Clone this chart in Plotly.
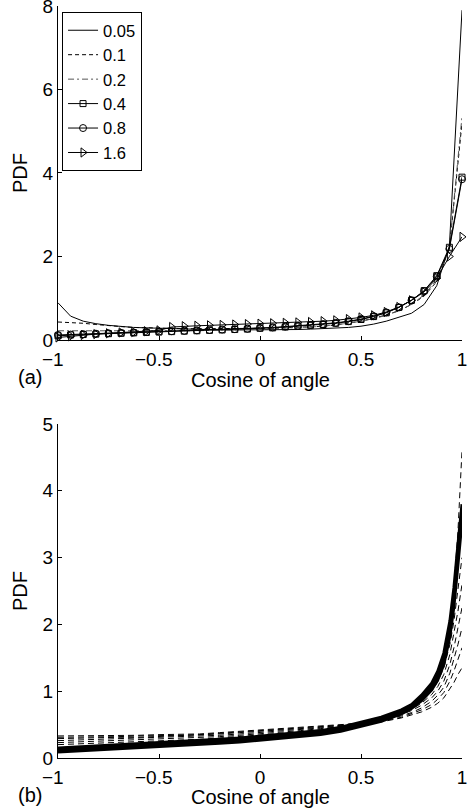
import plotly.graph_objects as go

# ---------------- Panel (a) data ----------------
x_a = [-1.0, -0.9375, -0.875, -0.8125, -0.75, -0.6875, -0.625, -0.5625, -0.5, -0.4375,
       -0.375, -0.3125, -0.25, -0.1875, -0.125, -0.0625, 0.0, 0.0625, 0.125, 0.1875,
       0.25, 0.3125, 0.375, 0.4375, 0.5, 0.5625, 0.625, 0.6875, 0.75, 0.8125,
       0.875, 0.9375, 1.0]

a_005 = [0.89, 0.57, 0.45, 0.39, 0.35, 0.32, 0.30, 0.29, 0.28, 0.27, 0.26, 0.25, 0.25, 0.24, 0.24, 0.24,
         0.24, 0.24, 0.25, 0.25, 0.26, 0.27, 0.28, 0.30, 0.33, 0.38, 0.45, 0.54, 0.64, 0.85, 1.30, 2.25, 7.9]
a_01 = [0.43, 0.42, 0.40, 0.37, 0.34, 0.32, 0.30, 0.29, 0.28, 0.27, 0.27, 0.27, 0.27, 0.27, 0.27, 0.27,
        0.28, 0.28, 0.29, 0.30, 0.31, 0.33, 0.36, 0.40, 0.45, 0.52, 0.60, 0.70, 0.85, 1.05, 1.40, 2.20, 5.2]
a_02 = [0.22, 0.22, 0.22, 0.21, 0.21, 0.21, 0.21, 0.21, 0.21, 0.22, 0.22, 0.22, 0.23, 0.23, 0.24, 0.25,
        0.26, 0.27, 0.28, 0.29, 0.31, 0.33, 0.36, 0.40, 0.45, 0.51, 0.59, 0.70, 0.85, 1.08, 1.45, 2.20, 5.35]
a_04 = [0.10, 0.12, 0.13, 0.14, 0.15, 0.16, 0.17, 0.18, 0.19, 0.20, 0.21, 0.22, 0.23, 0.24, 0.25, 0.26,
        0.28, 0.29, 0.31, 0.33, 0.35, 0.37, 0.40, 0.44, 0.49, 0.56, 0.65, 0.78, 0.95, 1.18, 1.54, 2.22, 3.9]
a_08 = [0.12, 0.13, 0.14, 0.15, 0.16, 0.17, 0.18, 0.19, 0.20, 0.21, 0.22, 0.23, 0.24, 0.25, 0.26, 0.27,
        0.29, 0.30, 0.32, 0.34, 0.36, 0.38, 0.41, 0.45, 0.50, 0.57, 0.66, 0.78, 0.95, 1.17, 1.52, 2.18, 3.85]
a_16 = [0.06, 0.09, 0.12, 0.14, 0.16, 0.18, 0.19, 0.21, 0.23, 0.31, 0.33, 0.34, 0.35, 0.36, 0.37, 0.38,
        0.39, 0.40, 0.41, 0.42, 0.43, 0.45, 0.47, 0.50, 0.54, 0.59, 0.67, 0.79, 0.95, 1.15, 1.48, 2.00, 2.47]

legend_names = ["0.05", "0.1", "0.2", "0.4", "0.8", "1.6"]

# ---------------- Panel (b) data ----------------
x_b = [-1.0, -0.9, -0.8, -0.7, -0.6, -0.5, -0.4, -0.3, -0.2, -0.1, 0.0, 0.1, 0.2, 0.3, 0.4, 0.5,
       0.6, 0.7, 0.75, 0.8, 0.85, 0.88, 0.91, 0.94, 0.96, 0.98, 1.0]

b_dashed = [
    [0.15, 0.16, 0.17, 0.18, 0.19, 0.20, 0.21, 0.22, 0.24, 0.26, 0.28, 0.30, 0.33, 0.36, 0.41, 0.47,
     0.55, 0.66, 0.74, 0.87, 1.05, 1.22, 1.50, 2.00, 2.55, 3.40, 4.60],
    [0.20, 0.21, 0.22, 0.23, 0.24, 0.25, 0.26, 0.28, 0.30, 0.32, 0.34, 0.36, 0.39, 0.42, 0.46, 0.51,
     0.58, 0.68, 0.75, 0.86, 1.00, 1.14, 1.35, 1.70, 2.05, 2.50, 3.00],
    [0.23, 0.24, 0.25, 0.26, 0.27, 0.28, 0.29, 0.30, 0.32, 0.34, 0.36, 0.38, 0.41, 0.44, 0.47, 0.52,
     0.58, 0.67, 0.73, 0.82, 0.95, 1.07, 1.25, 1.55, 1.85, 2.20, 2.60],
    [0.26, 0.27, 0.28, 0.29, 0.30, 0.30, 0.31, 0.32, 0.34, 0.36, 0.38, 0.40, 0.42, 0.45, 0.48, 0.52,
     0.57, 0.65, 0.71, 0.79, 0.90, 1.00, 1.15, 1.40, 1.65, 1.95, 2.25],
    [0.29, 0.30, 0.30, 0.31, 0.31, 0.32, 0.33, 0.34, 0.36, 0.38, 0.40, 0.41, 0.43, 0.46, 0.49, 0.52,
     0.56, 0.63, 0.68, 0.75, 0.85, 0.94, 1.06, 1.27, 1.47, 1.70, 1.95],
    [0.31, 0.31, 0.32, 0.32, 0.33, 0.33, 0.34, 0.35, 0.37, 0.39, 0.41, 0.42, 0.44, 0.46, 0.49, 0.52,
     0.55, 0.61, 0.66, 0.72, 0.80, 0.88, 0.98, 1.15, 1.30, 1.48, 1.65],
    [0.33, 0.33, 0.34, 0.34, 0.34, 0.35, 0.35, 0.36, 0.38, 0.40, 0.42, 0.43, 0.45, 0.47, 0.49, 0.51,
     0.54, 0.60, 0.64, 0.69, 0.76, 0.82, 0.90, 1.03, 1.13, 1.25, 1.35],
]

b_solid = [
    [0.09, 0.105, 0.12, 0.135, 0.15, 0.17, 0.185, 0.20, 0.22, 0.24, 0.27, 0.29, 0.32, 0.35, 0.40, 0.47,
     0.55, 0.66, 0.74, 0.86, 1.02, 1.17, 1.40, 1.82, 2.27, 2.90, 3.55],
    [0.12, 0.135, 0.15, 0.165, 0.18, 0.20, 0.215, 0.23, 0.25, 0.27, 0.30, 0.32, 0.35, 0.38, 0.43, 0.50,
     0.58, 0.69, 0.77, 0.90, 1.07, 1.23, 1.48, 1.93, 2.40, 3.05, 3.72],
    [0.15, 0.165, 0.18, 0.195, 0.21, 0.23, 0.245, 0.26, 0.28, 0.30, 0.33, 0.35, 0.38, 0.41, 0.46, 0.53,
     0.61, 0.72, 0.80, 0.94, 1.12, 1.30, 1.57, 2.05, 2.55, 3.20, 3.80],
]

x_tickvals = [-1, -0.5, 0, 0.5, 1]
x_ticktext = ["\u22121\u00a0\u00a0", "\u22120.5\u00a0\u00a0", "0", "0.5", "1"]

FONT = "Liberation Sans, Arial, Helvetica, sans-serif"
FS = 20
FT = 19

fig = go.Figure()

styles_a = [
    dict(line=dict(color="black", width=1), mode="lines"),
    dict(line=dict(color="black", width=1, dash="4px,3px"), mode="lines"),
    dict(line=dict(color="#555555", width=1, dash="6px,3px,2px,3px"), mode="lines"),
    dict(line=dict(color="black", width=1), mode="lines+markers",
         marker=dict(symbol="square-open", size=6, color="black", line=dict(width=1))),
    dict(line=dict(color="black", width=1), mode="lines+markers",
         marker=dict(symbol="circle-open", size=7, color="black", line=dict(width=1))),
    dict(line=dict(color="black", width=1), mode="lines+markers",
         marker=dict(symbol="triangle-right-open", size=8, color="black", line=dict(width=1))),
]
series_a = [a_005, a_01, a_02, a_04, a_08, a_16]
for name, ys, st in zip(legend_names, series_a, styles_a):
    fig.add_trace(go.Scatter(x=x_a, y=ys, name=name, xaxis="x", yaxis="y", showlegend=True,
                             cliponaxis=False, **st))

for ys in b_dashed:
    fig.add_trace(go.Scatter(x=x_b, y=ys, mode="lines", xaxis="x2", yaxis="y2", showlegend=False,
                             line=dict(color="black", width=1, dash="6px,4px")))
for ys in b_solid:
    fig.add_trace(go.Scatter(x=x_b, y=ys, mode="lines", xaxis="x2", yaxis="y2", showlegend=False,
                             line=dict(color="black", width=3)))

axis_common = dict(
    showgrid=False, zeroline=False, showline=True, linecolor="black", linewidth=1,
    ticks="inside", ticklen=4, tickcolor="black", tickwidth=1, mirror=False,
    tickfont=dict(family=FONT, size=FT, color="black"), automargin=False,
    ticklabeloverflow="allow",
)

top_dom = [0.5559, 1.0]
bot_dom = [0.0, 0.4441]

fig.update_layout(
    width=473, height=811,
    margin=dict(l=58, r=11, t=6, b=53, autoexpand=False),
    paper_bgcolor="white", plot_bgcolor="white",
    font=dict(family=FONT, size=FS, color="black"),
    xaxis=dict(domain=[0, 1], anchor="y", range=[-1, 1], tickmode="array",
               tickvals=x_tickvals, ticktext=x_ticktext, ticklabelstandoff=2, **axis_common),
    yaxis=dict(domain=top_dom, anchor="x", range=[0, 8], tickmode="array",
               tickvals=[0, 2, 4, 6, 8],
               title=dict(text="PDF", standoff=9, font=dict(size=FS)), **axis_common),
    xaxis2=dict(domain=[0, 1], anchor="y2", range=[-1, 1], tickmode="array",
                tickvals=x_tickvals, ticktext=x_ticktext, ticklabelstandoff=2, **axis_common),
    yaxis2=dict(domain=bot_dom, anchor="x2", range=[0, 5], tickmode="array",
                tickvals=[0, 1, 2, 3, 4, 5],
                title=dict(text="PDF", standoff=9, font=dict(size=FS)), **axis_common),
    legend=dict(x=0.01, y=0.992, xanchor="left", yanchor="top", xref="paper", yref="paper",
                bordercolor="black", borderwidth=1, bgcolor="white",
                font=dict(family=FONT, size=16.5, color="black"),
                itemwidth=30, tracegroupgap=0),
    annotations=[
        dict(text="Cosine of angle", x=0.5, y=(758 - 380) / 752, xref="paper", yref="paper",
             showarrow=False, xanchor="center", yanchor="middle",
             font=dict(family=FONT, size=FS, color="black")),
        dict(text="Cosine of angle", x=0.5, y=(758 - 797) / 752, xref="paper", yref="paper",
             showarrow=False, xanchor="center", yanchor="middle",
             font=dict(family=FONT, size=FS, color="black")),
        dict(text="(a)", x=-0.0693, y=(758 - 377) / 752, xref="paper", yref="paper", showarrow=False,
             xanchor="center", yanchor="middle", font=dict(family=FONT, size=FS, color="black")),
        dict(text="(b)", x=-0.0693, y=(758 - 795) / 752, xref="paper", yref="paper", showarrow=False,
             xanchor="center", yanchor="middle", font=dict(family=FONT, size=FS, color="black")),
    ],
)

fig.write_html("out.html", config={"displayModeBar": False},
               post_script="document.body.style.margin='0';document.body.style.overflow='hidden';")
